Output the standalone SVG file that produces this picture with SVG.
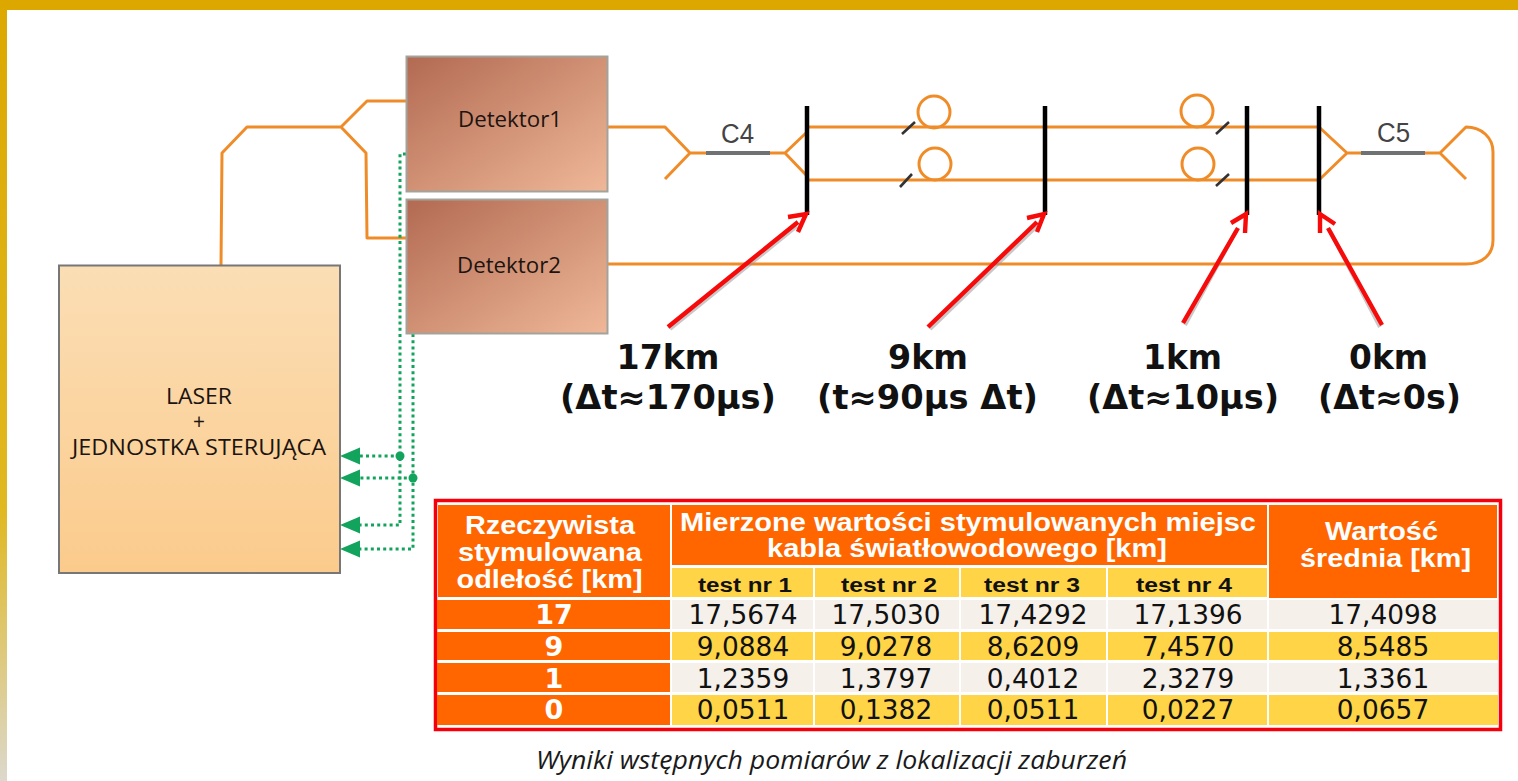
<svg xmlns="http://www.w3.org/2000/svg" width="1518" height="781" viewBox="0 0 1518 781">
<style>
.o{fill:none;stroke:#f08c28;stroke-width:3;stroke-linejoin:round}
.g{fill:none;stroke:#12a35c;stroke-width:3;stroke-dasharray:3 3.2}
.k{stroke:#000;stroke-width:4.5;fill:none}
.b{stroke:#6e7272;stroke-width:4;fill:none}
.s{stroke:#333;stroke-width:2.6;fill:none}
.r{fill:none;stroke:#f60a0a;stroke-width:4.4;stroke-linejoin:miter}
.rs{fill:none;stroke:#9a9a9a;stroke-width:4;opacity:.55}
.lab{font-family:"Open Sans","DejaVu Sans",sans-serif;fill:#1c1410;font-size:21px}
.c{font-family:"Liberation Sans",Arial,sans-serif;fill:#444;font-size:27px}
.big{font-family:"DejaVu Sans",sans-serif;font-weight:bold;font-size:33px;fill:#111;text-anchor:middle}
.h{font-family:"Liberation Sans",Arial,sans-serif;font-weight:bold;font-size:25px;fill:#fff;text-anchor:middle}
.t{font-family:"Liberation Sans",Arial,sans-serif;font-weight:bold;font-size:20px;fill:#111;text-anchor:middle}
.v{font-family:"DejaVu Sans",sans-serif;font-size:26.4px;fill:#111;text-anchor:middle}
.n{font-family:"DejaVu Sans",sans-serif;font-weight:bold;font-size:27px;fill:#fff;text-anchor:middle}
.or{fill:#f60}.ye{fill:#ffd447}.gr{fill:#f5f0ea}
</style>
<defs>
<linearGradient id="det" x1="0" y1="0" x2="1" y2="1"><stop offset="0" stop-color="#b26a52"/><stop offset="1" stop-color="#efb898"/></linearGradient>
<linearGradient id="las" x1="0" y1="0" x2="0" y2="1"><stop offset="0" stop-color="#fbdeb5"/><stop offset="1" stop-color="#fbcb8c"/></linearGradient>
<linearGradient id="side" x1="0" y1="0" x2="0" y2="1"><stop offset="0" stop-color="#dca800"/><stop offset=".65" stop-color="#e0b820"/><stop offset="1" stop-color="#dcd8cc"/></linearGradient>
<marker id="ga" markerUnits="userSpaceOnUse" markerWidth="20" markerHeight="18" refX="0" refY="8.500" orient="auto"><path d="M20 8.500L0 0V17Z" fill="#12a35c"/></marker>
</defs>
<rect width="1518" height="781" fill="#fff"/>
<g id="frame">
<rect width="1518" height="10" fill="#dca800"/>
<rect y="0" width="7" height="781" fill="url(#side)"/>
</g>
<g id="connectors">
<path class="o" d="M221 265L222 153L247 127H341L367 101H406M341 127L366 153L367 238H406"/>
<path class="o" d="M607 127H665L690 153H706M690 153L665 179M770 153H785L807 132M785 153L807 176"/>
<path class="o" d="M807 127H1318M807 180H1318M1319 127L1347 153L1319 180M1347 153H1361M1425 153H1440L1466 127C1482 127 1493 138 1493 152V240C1493 255 1482 264 1466 264H607M1440 153L1466 179"/>
<circle class="o" cx="934" cy="112" r="16"/><circle class="o" cx="935" cy="164" r="16"/>
<circle class="o" cx="1197" cy="111" r="16"/><circle class="o" cx="1198" cy="164" r="16"/>
<path class="s" d="M902 134L915 122M900 187L912 174M1216 134L1229 122M1216 186L1229 174"/>
<path class="b" d="M706 153H770M1361 153H1425"/>
<path class="k" d="M807 106V215M1045 106V215M1247 106V215M1319 106V215"/>
<path class="g" d="M406 154H400V525H360" marker-end="url(#ga)"/>
<path class="g" d="M413 334V549H360" marker-end="url(#ga)"/>
<path class="g" d="M400 456H360" marker-end="url(#ga)"/>
<path class="g" d="M413 478H360" marker-end="url(#ga)"/>
<circle cx="400" cy="456" r="4.500" fill="#12a35c"/><circle cx="413" cy="478" r="4.500" fill="#12a35c"/>
<path class="rs" d="M670 329L797 226M930 329L1037 226M1185 325L1236 231M1380 327L1330 231"/>
<path class="r" d="M668 327L798 222M788 217L806 214L798 232"/>
<path class="r" d="M928 327L1037 222M1027 218L1044 214L1037 232"/>
<path class="r" d="M1183 323L1238 228M1231 223L1246 214L1245 233"/>
<path class="r" d="M1382 325L1328 228M1335 224L1320 214L1320 233"/>
</g>
<g id="detektor1"><rect x="406.500" y="56.500" width="201" height="135" fill="url(#det)" stroke="#a3a39b" stroke-width="2"/><text class="lab" x="458" y="127" textLength="104" lengthAdjust="spacingAndGlyphs">Detektor1</text></g>
<g id="detektor2"><rect x="406.500" y="199.500" width="201" height="134" fill="url(#det)" stroke="#a3a39b" stroke-width="2"/><text class="lab" x="457" y="273" textLength="104" lengthAdjust="spacingAndGlyphs">Detektor2</text></g>
<g id="laser"><rect x="59" y="265.500" width="281" height="307.500" fill="url(#las)" stroke="#777" stroke-width="2"/>
<text class="lab" x="199" y="404" text-anchor="middle" textLength="66" lengthAdjust="spacingAndGlyphs">LASER</text>
<text class="lab" x="199" y="429" text-anchor="middle">+</text>
<text class="lab" x="199" y="455" text-anchor="middle" textLength="254" lengthAdjust="spacingAndGlyphs">JEDNOSTKA STERUJĄCA</text></g>
<g id="c4"><text class="c" x="721" y="143" textLength="33" lengthAdjust="spacingAndGlyphs">C4</text></g>
<g id="c5"><text class="c" x="1377" y="142" textLength="33" lengthAdjust="spacingAndGlyphs">C5</text></g>
<g id="labels">
<text class="big" x="668" y="369" textLength="103" lengthAdjust="spacingAndGlyphs">17km</text>
<text class="big" x="668" y="409" textLength="216" lengthAdjust="spacingAndGlyphs">(Δt≈170µs)</text>
<text class="big" x="928" y="369" textLength="80" lengthAdjust="spacingAndGlyphs">9km</text>
<text class="big" x="927.500" y="409" textLength="221" lengthAdjust="spacingAndGlyphs">(t≈90µs Δt)</text>
<text class="big" x="1182.500" y="369" textLength="79" lengthAdjust="spacingAndGlyphs">1km</text>
<text class="big" x="1183" y="409" textLength="192" lengthAdjust="spacingAndGlyphs">(Δt≈10µs)</text>
<text class="big" x="1388.500" y="369" textLength="79" lengthAdjust="spacingAndGlyphs">0km</text>
<text class="big" x="1389.500" y="409" textLength="143" lengthAdjust="spacingAndGlyphs">(Δt≈0s)</text>
</g>
<g id="table">
<rect x="435.500" y="500.500" width="1065" height="229" fill="#fff" stroke="#f5000a" stroke-width="3.500"/>
<rect class="or" x="438" y="505" width="232" height="92"/>
<rect class="or" x="672" y="505" width="595" height="60"/>
<rect class="or" x="1269" y="505" width="228" height="93"/>
<rect class="ye" x="672" y="568" width="141" height="29"/><rect class="ye" x="815" y="568" width="144" height="29"/><rect class="ye" x="961" y="568" width="145" height="29"/><rect class="ye" x="1108" y="568" width="159" height="29"/>
<rect class="or" x="437" y="600" width="233" height="29"/><rect class="or" x="437" y="632" width="233" height="28"/><rect class="or" x="437" y="663" width="233" height="29"/><rect class="or" x="437" y="695" width="233" height="30"/>
<g class="gr"><rect x="672" y="600" width="141" height="29"/><rect x="815" y="600" width="144" height="29"/><rect x="961" y="600" width="145" height="29"/><rect x="1108" y="600" width="159" height="29"/><rect x="1269" y="600" width="229" height="29"/>
<rect x="672" y="663" width="141" height="29"/><rect x="815" y="663" width="144" height="29"/><rect x="961" y="663" width="145" height="29"/><rect x="1108" y="663" width="159" height="29"/><rect x="1269" y="663" width="229" height="29"/></g>
<g class="ye"><rect x="672" y="632" width="141" height="28"/><rect x="815" y="632" width="144" height="28"/><rect x="961" y="632" width="145" height="28"/><rect x="1108" y="632" width="159" height="28"/><rect x="1269" y="632" width="229" height="28"/>
<rect x="672" y="695" width="141" height="30"/><rect x="815" y="695" width="144" height="30"/><rect x="961" y="695" width="145" height="30"/><rect x="1108" y="695" width="159" height="30"/><rect x="1269" y="695" width="229" height="30"/></g>
<text class="h" x="550" y="534" textLength="170" lengthAdjust="spacingAndGlyphs">Rzeczywista</text>
<text class="h" x="550" y="561" textLength="184" lengthAdjust="spacingAndGlyphs">stymulowana</text>
<text class="h" x="549.500" y="588" textLength="186" lengthAdjust="spacingAndGlyphs">odlełość [km]</text>
<text class="h" x="968" y="531" textLength="576" lengthAdjust="spacingAndGlyphs">Mierzone wartości stymulowanych miejsc</text>
<text class="h" x="967" y="557" textLength="400" lengthAdjust="spacingAndGlyphs">kabla światłowodowego [km]</text>
<text class="h" x="1381.500" y="540" textLength="113" lengthAdjust="spacingAndGlyphs">Wartość</text>
<text class="h" x="1385.500" y="567" textLength="171" lengthAdjust="spacingAndGlyphs">średnia [km]</text>
<text class="t" x="745" y="592" textLength="94" lengthAdjust="spacingAndGlyphs">test nr 1</text>
<text class="t" x="889" y="592" textLength="96" lengthAdjust="spacingAndGlyphs">test nr 2</text>
<text class="t" x="1032" y="592" textLength="96" lengthAdjust="spacingAndGlyphs">test nr 3</text>
<text class="t" x="1184" y="592" textLength="96" lengthAdjust="spacingAndGlyphs">test nr 4</text>
<text class="n" x="554" y="624">17</text><text class="n" x="554" y="656">9</text><text class="n" x="554" y="688">1</text><text class="n" x="554" y="719">0</text>
<text class="v" x="743" y="624">17,5674</text><text class="v" x="886" y="624">17,5030</text><text class="v" x="1033" y="624">17,4292</text><text class="v" x="1188" y="624">17,1396</text><text class="v" x="1383" y="624">17,4098</text>
<text class="v" x="743" y="656">9,0884</text><text class="v" x="886" y="656">9,0278</text><text class="v" x="1033" y="656">8,6209</text><text class="v" x="1188" y="656">7,4570</text><text class="v" x="1383" y="656">8,5485</text>
<text class="v" x="743" y="688">1,2359</text><text class="v" x="886" y="688">1,3797</text><text class="v" x="1033" y="688">0,4012</text><text class="v" x="1188" y="688">2,3279</text><text class="v" x="1383" y="688">1,3361</text>
<text class="v" x="743" y="719">0,0511</text><text class="v" x="886" y="719">0,1382</text><text class="v" x="1033" y="719">0,0511</text><text class="v" x="1188" y="719">0,0227</text><text class="v" x="1383" y="719">0,0657</text>
</g>
<g id="caption"><text x="536" y="769" font-family="'Open Sans','DejaVu Sans',sans-serif" font-style="italic" font-size="25px" fill="#1a1a1a" textLength="591" lengthAdjust="spacingAndGlyphs">Wyniki wstępnych pomiarów z lokalizacji zaburzeń</text></g>
</svg>
